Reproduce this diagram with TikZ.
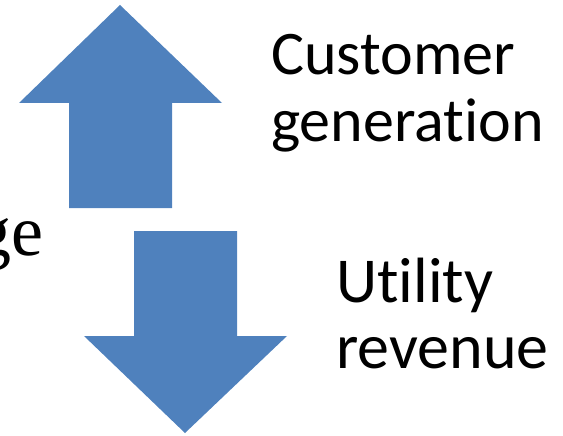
\documentclass[tikz,border=0pt]{standalone}
\usepackage{fontspec}
\setmainfont{Carlito}[Ligatures={NoCommon}]
\newfontfamily\serifface{Liberation Serif}
\definecolor{arrowblue}{HTML}{4F81BD}
\begin{document}
\begin{tikzpicture}[x=1pt,y=-1pt,
  blockarrow/.style={fill=arrowblue,draw=none},
  label/.style={inner sep=0pt,align=left}]
\useasboundingbox (0,0) rectangle (563,436);
% upward block arrow
\fill[blockarrow] (120,5) -- (222,103) -- (172,103) -- (172,208)
  -- (69,208) -- (69,103) -- (19,103) -- cycle;
\coordinate (uptip) at (120,5);
% downward block arrow
\fill[blockarrow] (134,231) -- (237,231) -- (237,336) -- (287,336)
  -- (185,433) -- (84,336) -- (134,336) -- cycle;
\coordinate (downtip) at (185,433);
% labels (anchored on the baseline of their last line)
\node[label,anchor=base west,font=\fontsize{62}{68}\selectfont] (cust) at (271,142) {Customer\\generation};
\node[label,anchor=base west,font=\fontsize{64}{66}\selectfont] (util) at (336,368) {Utility\\revenue};
\node[inner sep=0pt,anchor=base east,font=\serifface\fontsize{72}{72}\selectfont] (ge) at (44,255) {ge};
\end{tikzpicture}
\end{document}
